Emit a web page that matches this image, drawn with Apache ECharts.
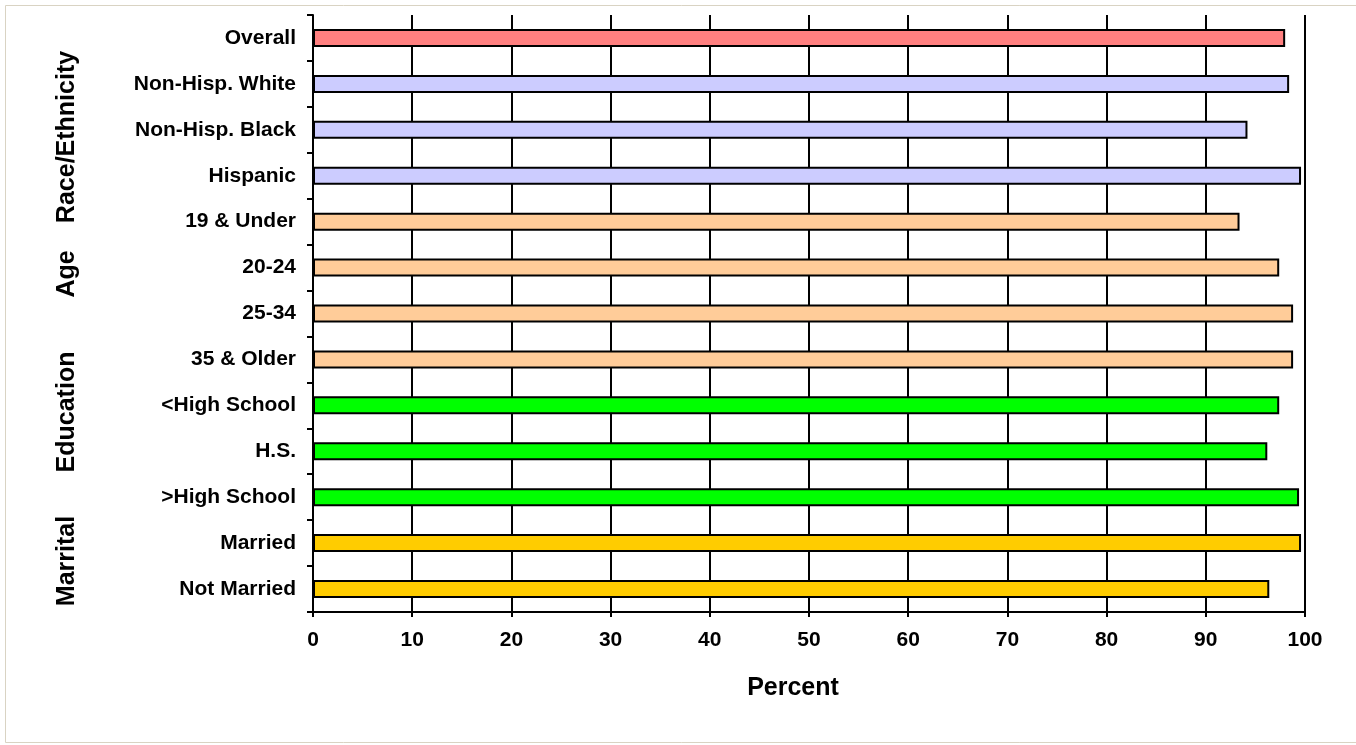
<!DOCTYPE html>
<html>
<head>
<meta charset="utf-8">
<script src="https://cdn.jsdelivr.net/npm/echarts@6/dist/echarts.min.js"></script>
<style>
html,body{margin:0;padding:0;background:#fff;}
#chart{width:1356px;height:745px;}
</style>
</head>
<body>
<div id="chart"></div>
<script>
var categories = ['Overall','Non-Hisp. White','Non-Hisp. Black','Hispanic','19 & Under','20-24','25-34','35 & Older','<High School','H.S.','>High School','Married','Not Married'];
var values = [98.0, 98.4, 94.2, 99.6, 93.4, 97.4, 98.8, 98.8, 97.4, 96.2, 99.4, 99.6, 96.4];
var categoryGroups = ['Overall','Race','Race','Race','Age','Age','Age','Age','Education','Education','Education','Marital','Marital'];
var xTicks = [0,10,20,30,40,50,60,70,80,90,100];
var groupLabels = ['Race/Ethnicity','Age','Education','Marrital'];
var xTitle = 'Percent';

var groupColors = {Overall:'#FF8080', Race:'#CCCCFF', Age:'#FFCC99', Education:'#00FF00', Marital:'#FFCC00'};
var groupLabelY = [137, 274, 412, 561];

var chart = echarts.init(document.getElementById('chart'));
var font = 'Liberation Sans, Arial, sans-serif';

var option = {
  animation: false,
  backgroundColor: '#ffffff',
  grid: {left: 313, right: 51, top: 15, bottom: 133, containLabel: false},
  xAxis: {
    type: 'value', min: xTicks[0], max: xTicks[xTicks.length-1], interval: 10,
    axisLine: {show: true, lineStyle: {color: '#000', width: 2}},
    axisTick: {show: true, length: 5, lineStyle: {color: '#000', width: 2}},
    splitLine: {show: true, lineStyle: {color: '#000', width: 2}},
    axisLabel: {color: '#000', fontWeight: 'bold', fontSize: 21, fontFamily: font, margin: 18}
  },
  yAxis: {
    type: 'category', data: categories, inverse: true,
    axisLine: {show: true, onZero: false, lineStyle: {color: '#000', width: 2}},
    axisTick: {show: true, length: 6, alignWithLabel: false, lineStyle: {color: '#000', width: 2}},
    splitLine: {show: false},
    axisLabel: {color: '#000', fontWeight: 'bold', fontSize: 21, fontFamily: font, margin: 17}
  },
  series: [{
    type: 'bar',
    barWidth: 18,
    data: values.map(function(v, i){
      return {value: v, itemStyle: {color: groupColors[categoryGroups[i]]}};
    }),
    itemStyle: {borderColor: '#000', borderWidth: 2}
  }],
  graphic: [
    {type: 'rect', shape: {x: 5.5, y: 5.5, width: 1400, height: 737}, style: {fill: 'none', stroke: '#D9D3C3', lineWidth: 1}, silent: true},
    {type: 'text', x: 793, y: 688, style: {text: xTitle, fill: '#000', font: 'bold 25px ' + font, align: 'center', verticalAlign: 'middle'}}
  ].concat(groupLabels.map(function(t, i){
    return {type: 'text', x: 67, y: groupLabelY[i], rotation: Math.PI/2,
      style: {text: t, fill: '#000', font: 'bold 25px ' + font, align: 'center', verticalAlign: 'middle'}};
  }))
};
chart.setOption(option);
</script>
</body>
</html>
